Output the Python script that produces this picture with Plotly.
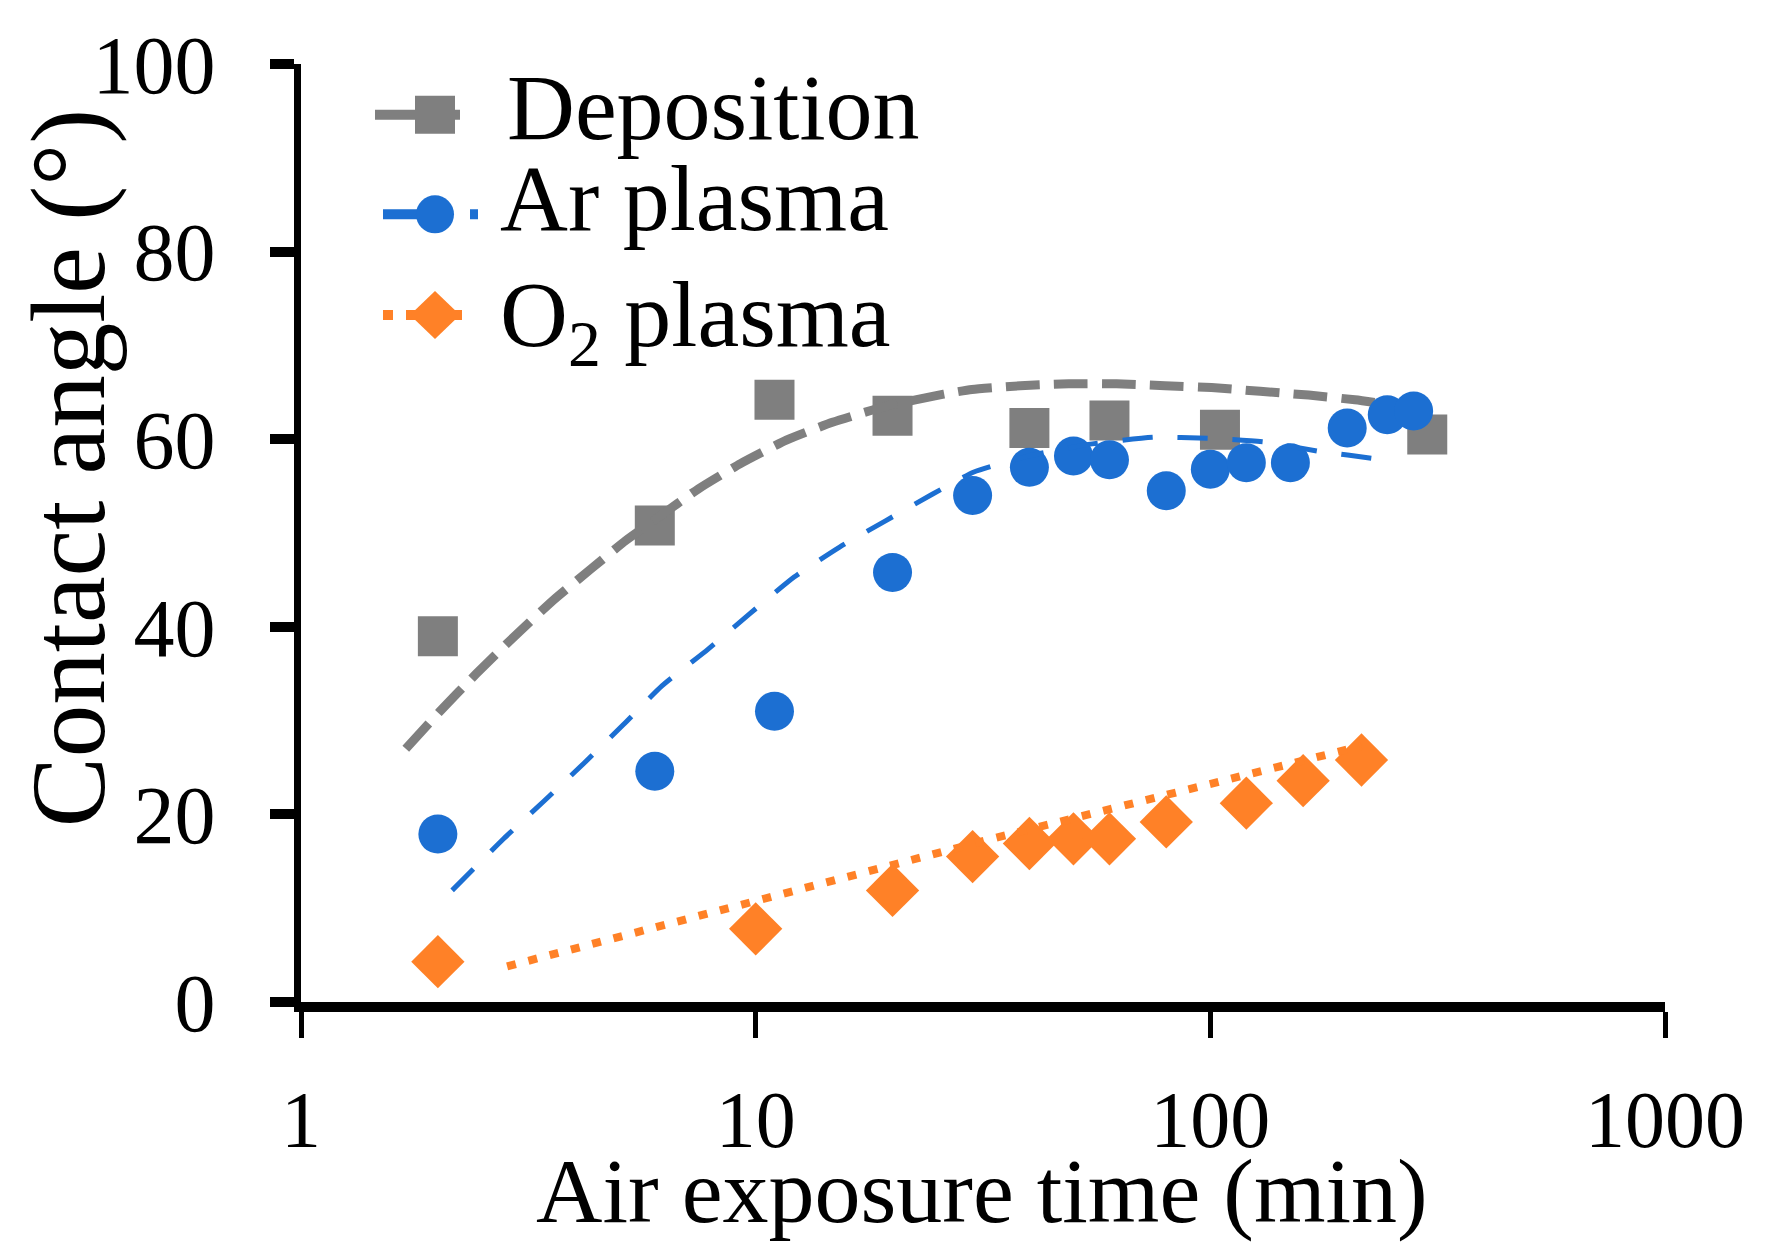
import plotly.graph_objects as go

# ---- data ----
dep_x = [2, 6, 11, 20, 40, 60, 105, 300]
dep_y = [39.0, 50.8, 64.2, 62.5, 61.2, 62.0, 61.0, 60.5]

ar_x = [2, 6, 11, 20, 30, 40, 50, 60, 80, 100, 120, 150, 200, 245, 280]
ar_y = [17.9, 24.6, 31.0, 45.8, 54.0, 57.0, 58.2, 57.8, 54.5, 56.8, 57.5, 57.5, 61.2, 62.6, 63.0]

o2_x = [2, 10, 20, 30, 40, 50, 60, 80, 120, 160, 215]
o2_y = [4.3, 7.8, 11.9, 15.5, 16.9, 17.4, 17.4, 19.2, 21.2, 23.6, 25.8]

# fitted trend lines as drawn in the reference
dep_fit_x = [1.70, 2.04, 2.43, 2.95, 3.58, 4.35, 5.18, 6.04, 7.48, 9.26, 11.68, 14.75, 19.3,
             25.9, 29.9, 38.2, 48.8, 62.2, 79.5, 100.6, 128.7, 164.5, 208, 265]
dep_fit_y = [27.0, 31.2, 35.0, 39.0, 42.8, 46.2, 49.2, 51.5, 54.7, 57.4, 59.9, 61.8, 63.5,
             64.8, 65.3, 65.7, 65.9, 65.9, 65.7, 65.5, 65.1, 64.7, 64.2, 63.5]

ar_fit_x = [2.15, 2.79, 3.42, 4.18, 5.1, 6.22, 7.85, 9.71, 12.15, 15.3, 19.3, 24.4, 30.2,
            40.5, 55, 75, 99, 132, 174, 232, 250]
ar_fit_y = [11.9, 17.4, 21.4, 25.4, 29.5, 33.7, 37.6, 41.4, 45.3, 48.5, 51.3, 54.1, 56.5,
            58.3, 59.5, 60.2, 60.1, 59.7, 58.7, 57.9, 57.6]

o2_fit_x = [2.84, 33.7, 215]
o2_fit_y = [3.8, 17.5, 27.3]

x_ticks = [1, 10, 100, 1000]
x_ticktext = ["1", "10", "100", "1000"]
y_ticks = [0, 20, 40, 60, 80, 100]

series_names = ["Deposition", "Ar plasma", "O<sub>2</sub> plasma"]

GRAY = "#7F7F7F"
BLUE = "#1C6FD2"
ORANGE = "#FF8127"
FONT = "Liberation Serif"

# plot area in window pixels (the page body adds an 8px margin)
BODY = 8
L, R, T, B = 301, 1665, 60, 1002
W, H = 1771, 1258


def px(vx):
    return (vx - L) / (R - L)


def py(vy):
    return (B - vy) / (B - T)


fig = go.Figure()

# Deposition
fig.add_trace(go.Scatter(x=dep_x, y=dep_y, mode="markers", showlegend=False,
                         marker=dict(symbol="square", size=40, color=GRAY)))
fig.add_trace(go.Scatter(x=dep_fit_x, y=dep_fit_y, mode="lines", showlegend=False,
                         line=dict(color=GRAY, width=9, dash="34px,14px", shape="spline", smoothing=0.5)))
# Ar plasma
fig.add_trace(go.Scatter(x=ar_x, y=ar_y, mode="markers", showlegend=False,
                         marker=dict(symbol="circle", size=39, color=BLUE)))
fig.add_trace(go.Scatter(x=ar_fit_x, y=ar_fit_y, mode="lines", showlegend=False,
                         line=dict(color=BLUE, width=5, dash="30px,25px", shape="spline", smoothing=0.5)))
# O2 plasma
fig.add_trace(go.Scatter(x=o2_x, y=o2_y, mode="markers", showlegend=False,
                         marker=dict(symbol="diamond", size=41, color=ORANGE)))
fig.add_trace(go.Scatter(x=o2_fit_x, y=o2_fit_y, mode="lines", showlegend=False,
                         line=dict(color=ORANGE, width=8, dash="9px,13px")))

# ---- custom legend (large symbols like the reference) ----
leg_x = px(435)
mark_rows = [py(111), py(211), py(312)]
text_rows = [py(103), py(195), py(318)]
text_x = [px(505), px(498), px(498)]
leg_colors = [GRAY, BLUE, ORANGE]
leg_dash = ["45px,8px", "38px,49px,8px", "10px,13px"]
leg_width = [10, 10, 10]
leg_x0 = [-60, -52, -52]
leg_x1 = [25, 43, 37]
shapes = []
annotations = []
for i in range(3):
    shapes.append(dict(type="line", xref="paper", yref="paper", xsizemode="pixel", ysizemode="pixel",
                       xanchor=leg_x, yanchor=mark_rows[i], x0=leg_x0[i], x1=leg_x1[i], y0=0, y1=0,
                       line=dict(color=leg_colors[i], width=leg_width[i], dash=leg_dash[i]), layer="above"))
shapes.append(dict(type="rect", xref="paper", yref="paper", xsizemode="pixel", ysizemode="pixel",
                   xanchor=leg_x, yanchor=mark_rows[0], x0=-20, x1=20, y0=-19, y1=19,
                   fillcolor=GRAY, line=dict(width=0), layer="above"))
shapes.append(dict(type="circle", xref="paper", yref="paper", xsizemode="pixel", ysizemode="pixel",
                   xanchor=leg_x, yanchor=mark_rows[1], x0=-19, x1=19, y0=-19, y1=19,
                   fillcolor=BLUE, line=dict(width=0), layer="above"))
shapes.append(dict(type="path", xref="paper", yref="paper", xsizemode="pixel", ysizemode="pixel",
                   xanchor=leg_x, yanchor=mark_rows[2],
                   path="M0,-24 L25,0 L0,24 L-25,0 Z",
                   fillcolor=ORANGE, line=dict(width=0), layer="above"))

for i in range(3):
    annotations.append(dict(text=series_names[i], xref="paper", yref="paper", x=text_x[i], y=text_rows[i],
                            xanchor="left", yanchor="middle", showarrow=False,
                            font=dict(family=FONT, size=94, color="black")))

annotations.append(dict(text="Air exposure time (min)", xref="paper", yref="paper", x=px(982), y=py(1192),
                        xanchor="center", yanchor="middle", showarrow=False,
                        font=dict(family=FONT, size=92, color="black")))
annotations.append(dict(text="Contact angle (°)", xref="paper", yref="paper", x=px(68), y=py(466),
                        xanchor="center", yanchor="middle", showarrow=False, textangle=-90,
                        font=dict(family=FONT, size=105, color="black")))

fig.update_layout(
    width=W, height=H,
    margin=dict(l=L - BODY, r=W - (R - BODY), t=T - BODY, b=H - (B - BODY)),
    paper_bgcolor="white", plot_bgcolor="white",
    showlegend=False,
    shapes=shapes,
    annotations=annotations,
    xaxis=dict(type="log", range=[0, 3], tickvals=x_ticks, ticktext=x_ticktext,
               showline=True, linecolor="black", linewidth=10,
               ticks="outside", ticklen=26, tickwidth=5, tickcolor="black",
               showgrid=False, zeroline=False, ticklabelstandoff=13,
               tickfont=dict(family=FONT, size=80, color="black")),
    yaxis=dict(range=[0, 100], tickvals=y_ticks,
               showline=True, linecolor="black", linewidth=7,
               ticks="outside", ticklen=24, tickwidth=10, tickcolor="black",
               showgrid=False, zeroline=False, ticklabelstandoff=38,
               tickfont=dict(family=FONT, size=82, color="black")),
)

fig.write_html("out.html")
